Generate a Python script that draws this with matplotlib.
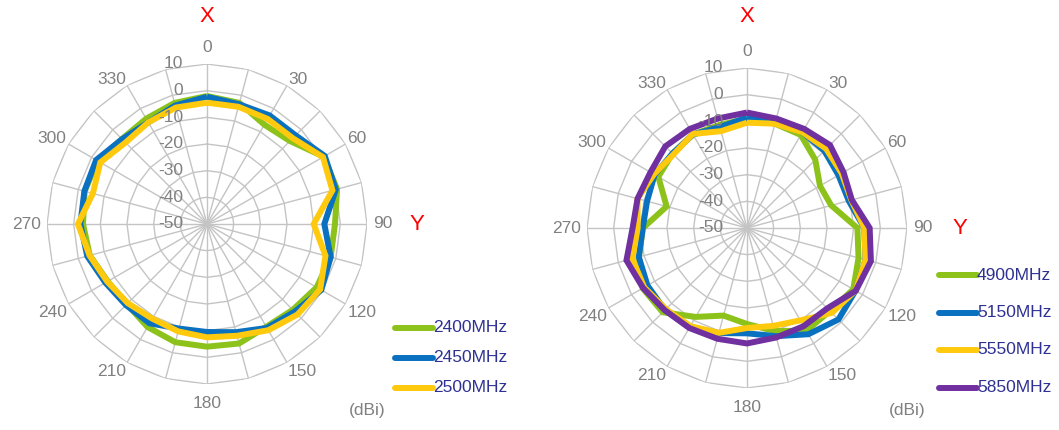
import numpy as np
import matplotlib
matplotlib.use("Agg")
import matplotlib.pyplot as plt

plt.rcParams['font.family'] = ['Liberation Sans', 'DejaVu Sans']

# angles (deg) measured clockwise from X
angles = list(range(0, 360, 15))
angle_labels = [0, 30, 60, 90, 120, 150, 180, 210, 240, 270, 300, 330]
r_levels = [-50, -40, -30, -20, -10, 0, 10]

# left chart: 2.4 GHz band (dBi)
g2400 = [-2, -3, -7, -6, 0.5, 0.5, -2, -2, -2.5, -4.5, -5.5, -3.6,
         -4, -4.1, -5.4, -7.5, -7, -4.5, -3.5, -2.5, -2.6, -4.9, -4.4, -3]
b2450 = [-2.3, -3.5, -3, -3, 1, 0, -6, -2, -0.5, -3.5, -5, -8,
         -9.5, -9.4, -7, -7, -6, -3.5, -2.5, -2.4, -2, -5, -6, -4]
y2500 = [-4.5, -4.5, -4.5, -4.5, 0.2, -1.3, -10, -4, -1, -2, -4, -6.6,
         -7.5, -8.3, -9, -8, -6.8, -4.4, -1.6, -5.7, -3.8, -6.8, -6, -4.8]

# right chart: 5 GHz band (dBi)
g4900 = [-9, -9.5, -9.7, -13.8, -18.4, -17.3, -8.6, -6.7, -4, -6, -5.5, -10,
         -14, -16, -11.5, -5.3, -4.8, -8, -11, -18.8, -11.6, -10.5, -9.5, -10]
b5150 = [-8.6, -8.5, -8.5, -9, -10.4, -10.5, -6, -4, -3, -1.5, -4, -8,
         -10.5, -9.2, -7, -6.5, -6.9, -8, -10.9, -11.2, -10, -10.5, -9.5, -10.8]
y5550 = [-10.5, -9.5, -8.5, -8, -9, -9.5, -6, -4, -3, -5, -10, -12,
         -12.5, -9.3, -7.5, -7, -5.5, -5.5, -9, -7.5, -9.7, -11, -9.3, -12.4]
p5850 = [-6.7, -7.5, -7.1, -6, -8.2, -9.3, -4, -1.9, -2.9, -7.4, -7.5, -7.5,
         -6.7, -7, -6.7, -6.4, -5, -3.2, -7.1, -7.5, -8.2, -6.7, -7.1, -7.5]

left_series = [("2400MHz", g2400, "#8cc21a"), ("2450MHz", b2450, "#0a70c0"),
               ("2500MHz", y2500, "#ffc90e")]
right_series = [("4900MHz", g4900, "#8cc21a"), ("5150MHz", b5150, "#0a70c0"),
                ("5550MHz", y5550, "#ffc90e"), ("5850MHz", p5850, "#7030a0")]

W, H = 1059, 430
fig = plt.figure(figsize=(W / 100, H / 100), dpi=100)
grid_col = "#c4c4c4"
txt_col = "#808080"
leg_col = "#2e3192"


def closed(vals):
    return list(vals) + [vals[0]]


def radar(cx, cy, series, leg_x, leg_y0, leg_dy, ylab_x, ylab_y):
    R = 160
    ax = fig.add_axes([(cx - R) / W, (H - cy - R) / H, 2 * R / W, 2 * R / H],
                      projection="polar")
    ax.set_theta_zero_location("N")
    ax.set_theta_direction(-1)
    ax.set_ylim(-50, 10)
    ax.grid(False)
    ax.spines["polar"].set_visible(False)
    ax.set_xticks([])
    ax.set_yticks([])
    ax.patch.set_alpha(0)

    th = np.deg2rad(closed(angles))
    for lv in r_levels[1:]:
        ax.plot(th, [lv] * len(th), color=grid_col, lw=1, zorder=1)
    for a in angles:
        ax.plot([np.deg2rad(a)] * 2, [-50, 10], color=grid_col, lw=1, zorder=1)

    for name, vals, col in series:
        ax.plot(th, closed(vals), color=col, lw=4.3, zorder=3,
                solid_joinstyle="miter", solid_capstyle="butt")

    # angle labels, anchored by their nearest corner like the spreadsheet does
    for a in angle_labels:
        s, c = np.sin(np.deg2rad(a)), np.cos(np.deg2rad(a))
        if a % 180 == 0:
            p = 172
        elif a % 90 == 0:
            p = 166
        else:
            p = 162
        ha = "left" if s > 0.01 else ("right" if s < -0.01 else "center")
        va = "baseline" if c > 0.01 else ("top" if c < -0.01 else "center")
        fig.text((cx + p * s) / W, (H - cy + p * c) / H, str(a), ha=ha, va=va,
                 fontsize=12.5, color=txt_col)
    for lv in r_levels:
        fig.text((cx - 24) / W, (H - cy + (lv + 50) * R / 60) / H, str(lv),
                 ha="right", va="center", fontsize=12.5, color=txt_col)

    fig.text(cx / W, (H - 17) / H, "X", ha="center", va="center",
             fontsize=16, color="red")
    fig.text(ylab_x / W, (H - ylab_y) / H, "Y", ha="center", va="center",
             fontsize=16, color="red")
    fig.text((cx + 160) / W, (H - 410) / H, "(dBi)", ha="center", va="center",
             fontsize=12.5, color=txt_col)

    for i, (name, vals, col) in enumerate(series):
        y = (H - (leg_y0 + i * leg_dy)) / H
        fig.add_artist(plt.Line2D([(leg_x) / W, (leg_x + 38) / W], [y, y],
                                  color=col, lw=4.3, solid_capstyle="round"))
        fig.text((leg_x + 38) / W, y, name, ha="left", va="center",
                 fontsize=12.5, color=leg_col)


radar(207, 224, left_series, 395, 328, 30, 417, 225)
radar(747, 228, right_series, 939, 275, 37.5, 960, 228)

fig.savefig("out.png", dpi=100, facecolor="white")
